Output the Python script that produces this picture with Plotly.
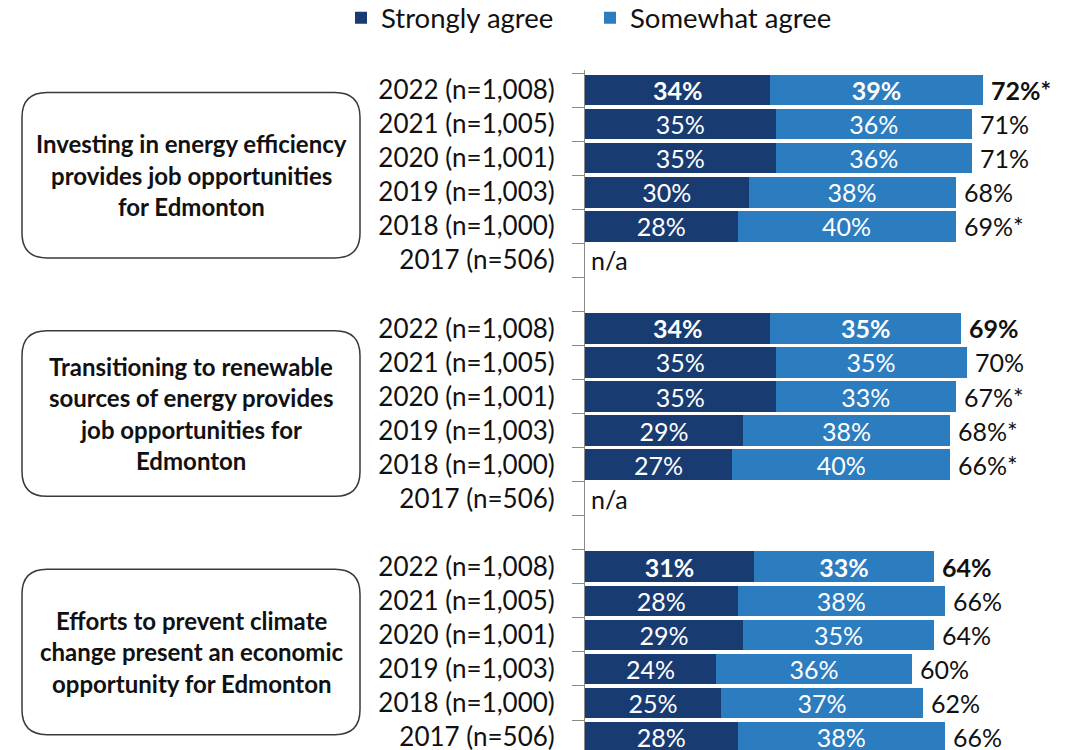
import plotly.graph_objects as go

# ---------------- data ----------------
years = ["2022 (n=1,008)", "2021 (n=1,005)", "2020 (n=1,001)",
         "2019 (n=1,003)", "2018 (n=1,000)", "2017 (n=506)"]
statements = [
    ["Investing in energy efficiency", "provides job opportunities", "for Edmonton"],
    ["Transitioning to renewable", "sources of energy provides", "job opportunities for", "Edmonton"],
    ["Efforts to prevent climate", "change present an economic", "opportunity for Edmonton"],
]
strongly_agree = [
    [34, 35, 35, 30, 28, None],
    [34, 35, 35, 29, 27, None],
    [31, 28, 29, 24, 25, 28],
]
somewhat_agree = [
    [39, 36, 36, 38, 40, None],
    [35, 35, 33, 38, 40, None],
    [33, 38, 35, 36, 37, 38],
]
total_labels = [
    ["72%*", "71%", "71%", "68%", "69%*", "n/a"],
    ["69%", "70%", "67%*", "68%*", "66%*", "n/a"],
    ["64%", "66%", "64%", "60%", "62%", "66%"],
]

# ---------------- styles ----------------
DARK = "#183B72"
LIGHT = "#2C7CC0"
FONT = "Lato"
TXT = "#111111"
ROWS_PER_GROUP = len(years) + 1  # one blank row between groups

ys, s_vals, w_vals, s_txt, w_txt, tick_text = [], [], [], [], [], []
for g in range(len(statements)):
    for i, yr in enumerate(years):
        ys.append(g * ROWS_PER_GROUP + i)
        tick_text.append(yr)
        s = strongly_agree[g][i]
        w = somewhat_agree[g][i]
        s_vals.append(s)
        w_vals.append(w)
        if s is None:
            s_txt.append("")
            w_txt.append("")
        else:
            s_txt.append(f"<b>{s}%</b>" if i == 0 else f"{s}%")
            w_txt.append(f"<b>{w}%</b>" if i == 0 else f"{w}%")

n_rows = len(statements) * ROWS_PER_GROUP - 1

fig = go.Figure()
fig.add_trace(go.Bar(
    name="Strongly agree", y=ys, x=s_vals, orientation="h",
    marker=dict(color=DARK, line=dict(width=0)),
    text=s_txt, textposition="inside", insidetextanchor="middle",
    textangle=0, constraintext="none",
    textfont=dict(family=FONT, size=25, color="white"),
    hoverinfo="skip",
))
fig.add_trace(go.Bar(
    name="Somewhat agree", y=ys, x=w_vals, orientation="h",
    marker=dict(color=LIGHT, line=dict(width=0)),
    text=w_txt, textposition="inside", insidetextanchor="middle",
    textangle=0, constraintext="none",
    textfont=dict(family=FONT, size=25, color="white"),
    hoverinfo="skip",
))

annotations = []
# totals / n/a
for g in range(len(statements)):
    for i in range(len(years)):
        s = strongly_agree[g][i]
        w = somewhat_agree[g][i]
        xpos = 0 if s is None else s + w
        lab = total_labels[g][i]
        annotations.append(dict(
            x=xpos, y=g * ROWS_PER_GROUP + i, xref="x", yref="y",
            text=f"<b>{lab}</b>" if (i == 0 and s is not None) else lab,
            showarrow=False, xanchor="left", yanchor="middle",
            xshift=4 if s is None else 6,
            font=dict(family=FONT, size=25, color=TXT),
        ))

# statement boxes (plot area: x from 577px, width 507px)
PLOT_L, PLOT_W = 577, 507
def px_to_paper(px):
    return (px - 8 - PLOT_L) / PLOT_W

shapes = []
BOX_X0, BOX_X1 = px_to_paper(22), px_to_paper(360)
TEXT_X = (BOX_X0 + BOX_X1) / 2
HALF_H = 2.43
RX, RY = 25 / PLOT_W, 0.73
LINE_STEP = 0.925
for g, lines in enumerate(statements):
    yc = g * ROWS_PER_GROUP + (len(years) - 1) / 2
    y0, y1 = yc - HALF_H, yc + HALF_H
    x0, x1 = BOX_X0, BOX_X1
    path = (f"M {x0+RX},{y0} L {x1-RX},{y0} Q {x1},{y0} {x1},{y0+RY} "
            f"L {x1},{y1-RY} Q {x1},{y1} {x1-RX},{y1} "
            f"L {x0+RX},{y1} Q {x0},{y1} {x0},{y1-RY} "
            f"L {x0},{y0+RY} Q {x0},{y0} {x0+RX},{y0} Z")
    shapes.append(dict(type="path", path=path, xref="paper", yref="y",
                       line=dict(color="#3a3a3a", width=1.5),
                       fillcolor="rgba(0,0,0,0)", layer="above"))
    n = len(lines)
    for k, ln in enumerate(lines):
        annotations.append(dict(
            x=TEXT_X, y=yc + (k - (n - 1) / 2) * LINE_STEP,
            xref="paper", yref="y", text=f"<b>{ln}</b>", showarrow=False,
            xanchor="center", yanchor="middle",
            font=dict(family=FONT, size=24, color=TXT),
        ))

boundaries = [v - 0.5 for v in range(n_rows + 1)] + [n_rows + 0.5]

fig.update_layout(
    width=1084, height=750,
    margin=dict(l=PLOT_L, r=0, t=62, b=8, autoexpand=False),
    plot_bgcolor="white", paper_bgcolor="white",
    barmode="stack", bargap=0.1,
    showlegend=True,
    legend=dict(orientation="h", xref="container", yref="container",
                x=333 / 1084, y=0.987, xanchor="left", yanchor="middle",
                font=dict(family=FONT, size=27.5, color=TXT),
                traceorder="normal", entrywidth=204, entrywidthmode="pixels",
                bgcolor="rgba(0,0,0,0)"),
    xaxis=dict(range=[0, PLOT_W / 5.45], visible=False, fixedrange=True),
    yaxis=dict(
        range=[19.38, -0.588], tickmode="array", tickvals=ys, ticktext=tick_text,
        ticks="", ticklabelstandoff=24, showgrid=False, zeroline=False,
        showline=True, linecolor="#8a8a8a", linewidth=1,
        tickfont=dict(family=FONT, size=26, color=TXT),
        minor=dict(tickmode="array", tickvals=boundaries, ticks="outside",
                   ticklen=12, tickcolor="#8a8a8a", tickwidth=1, showgrid=False),
    ),
    annotations=annotations,
    shapes=shapes,
    font=dict(family=FONT),
)

fig.write_html("out.html")
